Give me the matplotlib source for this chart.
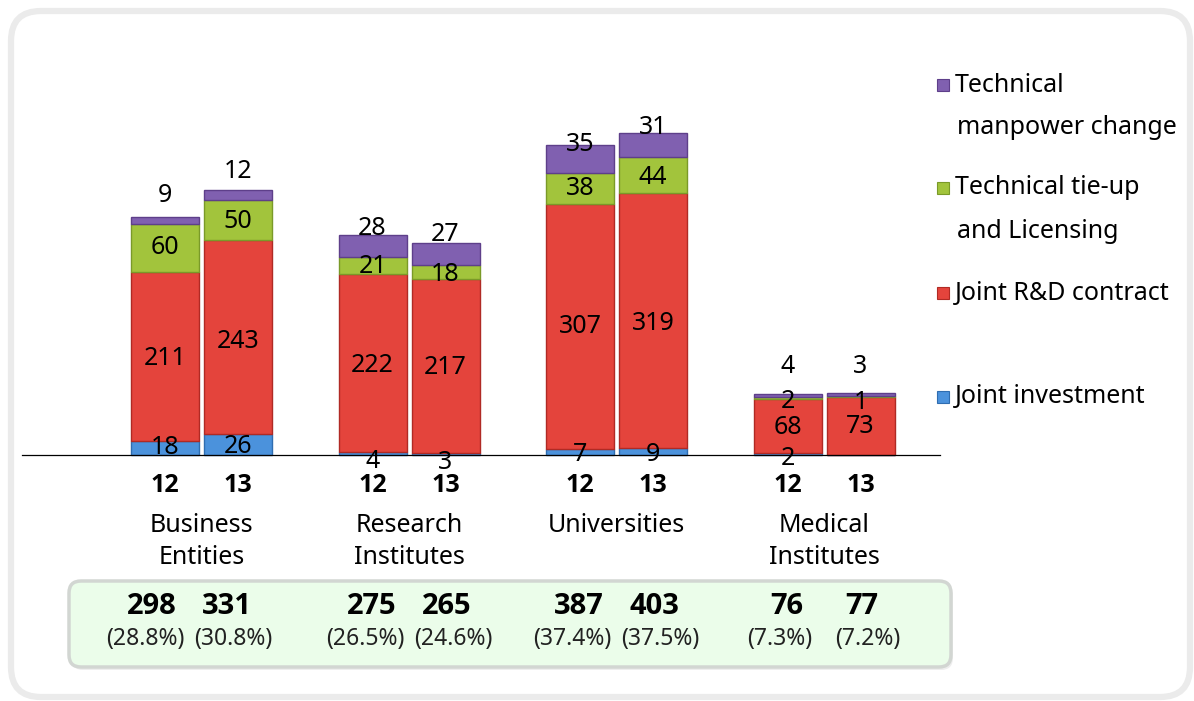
import matplotlib
matplotlib.use("Agg")
import matplotlib.pyplot as plt
from matplotlib import font_manager
from matplotlib.patches import FancyBboxPatch, Rectangle
import numpy as np

plt.rcParams['font.family'] = ['Noto Sans', 'DejaVu Sans']


def bold_family():
    cands = ['Noto Sans', 'Open Sans', 'Roboto', 'Lato', 'Liberation Sans', 'DejaVu Sans']
    have = {}
    for f in font_manager.fontManager.ttflist:
        w = f.weight if isinstance(f.weight, int) else (700 if 'bold' in str(f.weight).lower() else 400)
        if w >= 600 and f.style == 'normal':
            have[f.name] = True
    for c in cands:
        if c in have:
            return c
    return 'DejaVu Sans'


BOLD = [bold_family(), 'DejaVu Sans']

# ---------------- data ----------------
categories = ['Business\nEntities', 'Research\nInstitutes', 'Universities', 'Medical\nInstitutes']
years = ['12', '13']
series_names = ['Joint investment', 'Joint R&D contract',
                'Technical tie-up\nand Licensing', 'Technical\nmanpower change']
joint_investment = [18, 26, 4, 3, 7, 9, 2, 0]
joint_rnd = [211, 243, 222, 217, 307, 319, 68, 73]
tech_tieup = [60, 50, 21, 18, 38, 44, 2, 1]
tech_manpower = [9, 12, 28, 27, 35, 31, 4, 3]
totals = [298, 331, 275, 265, 387, 403, 76, 77]
shares = [28.8, 30.8, 26.5, 24.6, 37.4, 37.5, 7.3, 7.2]

# ---------------- style / layout ----------------
colors = ['#4b92dc', '#e4443c', '#a2c43c', '#8060b0']
edges = ['#2f6db0', '#b02a24', '#7a9a28', '#5e3f8a']
# label offsets in pixels (upwards) per bar, per series
label_off = [
    [0, -2, 0, 25], [-2, -5, -2, 23],
    [-8, -2, -1, 18], [-9, -2, -3, 19],
    [-2, 0, 0, 15], [-3, -3, -3, 18],
    [-4, -1, -3, 29], [0, -1, -6, 28],
]

W, H = 1194, 701
fig = plt.figure(figsize=(W / 100, H / 100), dpi=100)
fig.patch.set_facecolor('white')

# outer rounded frame (inches coords)
frame = FancyBboxPatch((11 / 100, (H - 697) / 100), 1179 / 100, 686 / 100,
                       boxstyle="round,pad=0,rounding_size=0.3",
                       transform=fig.dpi_scale_trans, facecolor='white',
                       edgecolor='#ebebeb', linewidth=4.5, zorder=-3)
fig.add_artist(frame)

# totals box
shadow = FancyBboxPatch((71 / 100, (H - 670) / 100), 882 / 100, 86 / 100,
                        boxstyle="round,pad=0,rounding_size=0.12",
                        transform=fig.dpi_scale_trans, facecolor='#eeeeee',
                        edgecolor='none', zorder=-2)
fig.add_artist(shadow)
gbox = FancyBboxPatch((69 / 100, (H - 667) / 100), 882 / 100, 86 / 100,
                      boxstyle="round,pad=0,rounding_size=0.12",
                      transform=fig.dpi_scale_trans, facecolor='#ebfdea',
                      edgecolor='#d2d6d2', linewidth=2.5, zorder=-1)
fig.add_artist(gbox)

ax = fig.add_axes([0, 0, 1, 1])
ax.patch.set_alpha(0)
ax.axis('off')
PX_X = 207.5  # pixels per group unit
PX_Y = 0.8    # pixels per value unit
x0_px, base_px = 201.5, 455
ax.set_xlim(-x0_px / PX_X, (W - x0_px) / PX_X)
ax.set_ylim(-(H - base_px) / PX_Y, base_px / PX_Y)


def ypx(py):
    """pixel row (from top) -> data y"""
    return (base_px - py) / PX_Y


group_x = np.arange(len(categories))
bar_off = 36.5 / PX_X
bar_w = 68 / PX_X
bar_x = np.array([g + s * bar_off for g in group_x for s in (-1, 1)])

stack = [joint_investment, joint_rnd, tech_tieup, tech_manpower]
bottom = np.zeros(len(bar_x))
for si, vals in enumerate(stack):
    vals = np.array(vals, dtype=float)
    ax.bar(bar_x, vals, width=bar_w, bottom=bottom, color=colors[si],
           edgecolor=edges[si], linewidth=1.0, zorder=2)
    for bi, v in enumerate(vals):
        if v <= 0:
            continue
        ax.annotate(f'{int(v)}', (bar_x[bi], bottom[bi] + v / 2),
                    xytext=(0, label_off[bi][si]), textcoords='offset pixels',
                    ha='center', va='center', fontsize=18, color='black', zorder=5)
    bottom = bottom + vals

# baseline
ax.axhline(0, xmin=22 / W, xmax=940 / W, color='black', linewidth=0.9, zorder=4)

# year labels
for bi, x in enumerate(bar_x):
    ax.text(x, ypx(486), years[bi % 2], ha='center', va='center',
            fontsize=18, fontweight='bold', family=BOLD)

# category labels
for gi, cat in enumerate(categories):
    for li, line in enumerate(cat.split('\n')):
        ax.text(group_x[gi], ypx(525 + 33 * li), line, ha='center', va='center',
                fontsize=18)

# totals and shares in the green box
tot_shift = [-12, 0, 0, 0]
for bi, x in enumerate(bar_x):
    gi = bi // 2
    side = -1 if bi % 2 == 0 else 1
    ax.annotate(f'{totals[bi]}', (group_x[gi], ypx(607)),
                xytext=(side * 37.5 + tot_shift[gi], 0), textcoords='offset pixels',
                ha='center', va='center', fontsize=21, fontweight='bold', family=BOLD)
    ax.annotate(f'({shares[bi]}%)', (group_x[gi], ypx(639)),
                xytext=(side * 44 + tot_shift[gi], 0), textcoords='offset pixels',
                ha='center', va='center', fontsize=16.5, color='#222222')

# legend (top to bottom)
leg_rows = [(3, 85, 128), (2, 188, 232), (1, 293, None), (0, 397, None)]
for si, y1, y2 in leg_rows:
    lines = series_names[si].split('\n')
    fig.add_artist(Rectangle(((943 - 6) / 100, (H - y1 - 6) / 100), 12 / 100, 12 / 100,
                             transform=fig.dpi_scale_trans, facecolor=colors[si],
                             edgecolor=edges[si], linewidth=0.8))
    fig.text(955 / W, 1 - y1 / H, lines[0], ha='left', va='center', fontsize=18)
    if y2 is not None:
        fig.text(957 / W, 1 - y2 / H, lines[1], ha='left', va='center', fontsize=18)

fig.savefig('out.png', dpi=100)
